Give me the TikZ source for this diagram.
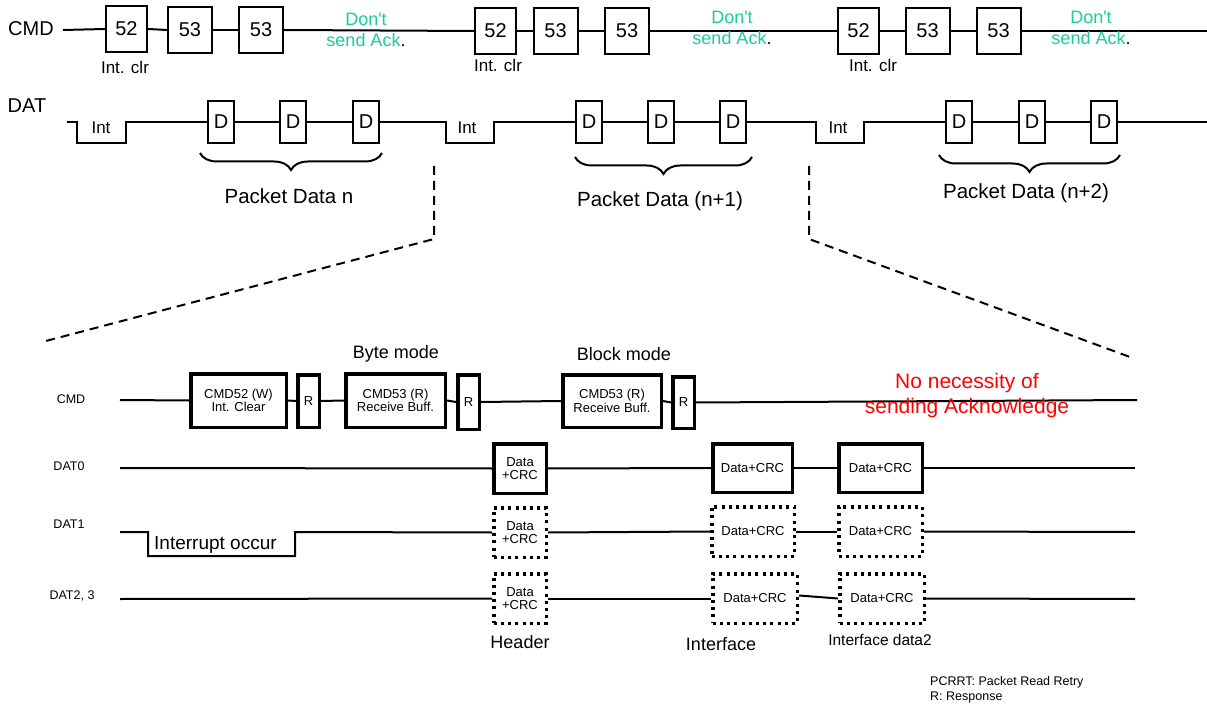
\documentclass[tikz,border=0pt]{standalone}
\usepackage{fontspec}
\setmainfont{Liberation Sans}[Ligatures=TeXOff]
\usetikzlibrary{decorations.pathreplacing}
\definecolor{ackgreen}{RGB}{25,205,150}
\definecolor{nored}{RGB}{255,0,0}
\begin{document}
\begin{tikzpicture}[x=1pt,y=-1pt,line join=miter,
  wire/.style={line width=2pt},
  dashline/.style={line width=2pt,dash pattern=on 9pt off 6pt},
  bracewire/.style={line width=2pt,decorate,decoration={brace,mirror,amplitude=17pt}},
  toplabel/.style={inner sep=0pt,font=\fontsize{20}{24}\selectfont},
  topbox/.style={draw,line width=2pt,inner sep=0pt,minimum width=44pt,minimum height=46pt,font=\fontsize{20}{24}\selectfont},
  topboxn/.style={topbox,minimum width=41pt},
  dbox/.style={draw,line width=2pt,inner sep=0pt,minimum width=26pt,minimum height=42pt,font=\fontsize{20}{24}\selectfont},
  clrlabel/.style={inner sep=0pt,font=\fontsize{17}{20}\selectfont},
  intlabel/.style={inner sep=0pt,font=\fontsize{17}{20}\selectfont},
  acktext/.style={inner sep=0pt,align=center,font=\fontsize{18}{21}\selectfont},
  pktlabel/.style={inner sep=0pt,font=\fontsize{20.5}{24}\selectfont},
  lowlabel/.style={inner sep=0pt,font=\fontsize{12.5}{15}\selectfont},
  tbox/.style={draw,line width=3.5pt,inner sep=0pt,align=center,font=\fontsize{13}{13.5}\selectfont},
  dotbox/.style={tbox,dash pattern=on 3pt off 4.2pt},
  modelabel/.style={inner sep=0pt,font=\fontsize{18}{21}\selectfont},
  redtext/.style={inner sep=0pt,align=center,text=nored,font=\fontsize{21}{25}\selectfont},
  caption/.style={inner sep=0pt,font=\fontsize{18}{21}\selectfont},
  legend/.style={inner sep=0pt,anchor=west,font=\fontsize{12.5}{14}\selectfont}
]
\useasboundingbox (0,0) rectangle (1207,708);

% ---------- top CMD row ----------
\node[toplabel] (cmdT) at (31,29) {CMD};
\coordinate (c0) at (63,30);
\node[topboxn] (a1) at (126.5,29) {52};
\node[topbox]  (a2) at (190,30) {53};
\node[topbox]  (a3) at (261,30) {53};
\node[topboxn] (a4) at (495.5,31) {52};
\node[topbox]  (a5) at (555.5,31) {53};
\node[topbox]  (a6) at (627,31) {53};
\node[topboxn] (a7) at (858.5,31) {52};
\node[topbox]  (a8) at (927.5,31) {53};
\node[topbox]  (a9) at (998.5,31) {53};
\coordinate (c1) at (1207,31);
\draw[wire] (c0) -- (a1.west);
\draw[wire] (a1.east) -- (a2.west);
\draw[wire] (a2.east) -- (a3.west);
\draw[wire] (a3.east) -- (a4.west);
\draw[wire] (a4.east) -- (a5.west);
\draw[wire] (a5.east) -- (a6.west);
\draw[wire] (a6.east) -- (a7.west);
\draw[wire] (a7.east) -- (a8.west);
\draw[wire] (a8.east) -- (a9.west);
\draw[wire] (a9.east) -- (c1);

\node[clrlabel] (ic1) at (125,67) {Int. clr};
\node[clrlabel] (ic2) at (498,65) {Int. clr};
\node[clrlabel] (ic3) at (873,65) {Int. clr};

\node[acktext] (ack1) at (366,30) {\textcolor{ackgreen}{Don't}\\\textcolor{ackgreen}{send Ack}.};
\node[acktext] (ack2) at (732,28) {\textcolor{ackgreen}{Don't}\\\textcolor{ackgreen}{send Ack}.};
\node[acktext] (ack3) at (1091,28) {\textcolor{ackgreen}{Don't}\\\textcolor{ackgreen}{send Ack}.};

% ---------- top DAT row ----------
\node[toplabel] (datT) at (27,106) {DAT};
\coordinate (w0) at (67,122);
\node[dbox] (d1) at (221,122) {D};
\node[dbox] (d2) at (293,122) {D};
\node[dbox] (d3) at (366,122) {D};
\node[dbox] (d4) at (589,122) {D};
\node[dbox] (d5) at (661,122) {D};
\node[dbox] (d6) at (733,122) {D};
\node[dbox] (d7) at (959,122) {D};
\node[dbox] (d8) at (1032,122) {D};
\node[dbox] (d9) at (1104,122) {D};
\coordinate (w1) at (1207,122);
\draw[wire] (w0) -- ++(10,0) -- ++(0,21) -- ++(49,0) -- ++(0,-21) -- (d1.west);
\draw[wire] (d1.east) -- (d2.west);
\draw[wire] (d2.east) -- (d3.west);
\draw[wire] (d3.east) -- (446,122) -- ++(0,21) -- ++(48,0) -- ++(0,-21) -- (d4.west);
\draw[wire] (d4.east) -- (d5.west);
\draw[wire] (d5.east) -- (d6.west);
\draw[wire] (d6.east) -- (816,122) -- ++(0,21) -- ++(48,0) -- ++(0,-21) -- (d7.west);
\draw[wire] (d7.east) -- (d8.west);
\draw[wire] (d8.east) -- (d9.west);
\draw[wire] (d9.east) -- (w1);

\node[intlabel] (int1) at (101,128) {Int};
\node[intlabel] (int2) at (467,128) {Int};
\node[intlabel] (int3) at (838,128) {Int};

\coordinate (br1a) at (200,153); \coordinate (br1b) at (382,153);
\coordinate (br2a) at (575,157); \coordinate (br2b) at (752,157);
\coordinate (br3a) at (939,155); \coordinate (br3b) at (1120,155);
\draw[bracewire] (br1a) -- (br1b);
\draw[bracewire] (br2a) -- (br2b);
\draw[bracewire] (br3a) -- (br3b);

\node[pktlabel] (p1) at (289,196) {Packet Data n};
\node[pktlabel] (p2) at (660,201) {Packet Data (n+1)};
\node[pktlabel] (p3) at (1026,193) {Packet Data (n+2)};

% ---------- zoom dashed lines ----------
\coordinate (zl0) at (434,166); \coordinate (zl1) at (434,239); \coordinate (zl2) at (42,342);
\coordinate (zr0) at (809,166); \coordinate (zr1) at (809,239); \coordinate (zr2) at (1130,357);
\draw[dashline] (zl0) -- (zl1) -- (zl2);
\draw[dashline] (zr0) -- (zr1) -- (zr2);

% ---------- lower CMD ----------
\node[lowlabel] (cmdL) at (71,399) {CMD};
\coordinate (l0) at (120,400);
\node[tbox,minimum width=95.5pt,minimum height=53.5pt] (k1) at (238.5,400.5) {CMD52 (W)\\Int. Clear};
\node[tbox,minimum width=21.5pt,minimum height=52.5pt] (r1) at (308.5,401) {R};
\node[tbox,minimum width=99.5pt,minimum height=53.5pt] (k2) at (395.5,400.5) {CMD53 (R)\\Receive Buff.};
\node[tbox,minimum width=21.5pt,minimum height=54.5pt] (r2) at (468.5,402) {R};
\node[tbox,minimum width=98.5pt,minimum height=52.5pt] (k3) at (612,401) {CMD53 (R)\\Receive Buff.};
\node[tbox,minimum width=21.5pt,minimum height=51.5pt] (r3) at (683.5,402.5) {R};
\coordinate (l1) at (1137,400);
\draw[wire] (l0) -- (k1.west);
\draw[wire] (k1.east) -- (r1.west);
\draw[wire] (r1.east) -- (k2.west);
\draw[wire] (k2.east) -- (r2.west);
\draw[wire] (r2.east) -- (k3.west);
\draw[wire] (k3.east) -- (r3.west);
\draw[wire] (r3.east) -- (l1);

\node[modelabel] (bym) at (396,354) {Byte mode};
\node[modelabel] (blm) at (624,354) {Block mode};
\node[redtext] (nonec) at (967,396) {No necessity of\\sending Acknowledge};

% ---------- DAT0 ----------
\node[lowlabel] (dat0L) at (69,466) {DAT0};
\coordinate (m0) at (120,468);
\node[tbox,minimum width=52.5pt,minimum height=49.5pt] (h0) at (520,468.5) {Data\\+CRC};
\node[tbox,minimum width=79.5pt,minimum height=48.5pt] (i0) at (752.5,468) {Data+CRC};
\node[tbox,minimum width=83.5pt,minimum height=48.5pt] (e0) at (880.5,468) {Data+CRC};
\coordinate (m1) at (1135,468);
\draw[wire] (m0) -- (h0.west);
\draw[wire] (h0.east) -- (i0.west);
\draw[wire] (i0.east) -- (e0.west);
\draw[wire] (e0.east) -- (m1);

% ---------- DAT1 ----------
\node[lowlabel] (dat1L) at (69,524) {DAT1};
\coordinate (n0) at (120,532);
\node[dotbox,minimum width=52.5pt,minimum height=49.5pt] (h1) at (520,532.5) {Data\\+CRC};
\node[dotbox,minimum width=82.5pt,minimum height=49.5pt] (i1) at (753,531.5) {Data+CRC};
\node[dotbox,minimum width=83.5pt,minimum height=49.5pt] (e1) at (880.5,531.5) {Data+CRC};
\coordinate (n1) at (1135,532);
\draw[wire] (n0) -- ++(28,0) -- ++(0,24) -- ++(147,0) -- ++(0,-24) -- (h1.west);
\draw[wire] (h1.east) -- (i1.west);
\draw[wire] (i1.east) -- (e1.west);
\draw[wire] (e1.east) -- (n1);
\node[inner sep=0pt,anchor=west,font=\fontsize{19}{22}\selectfont] (irq) at (154,545) {Interrupt occur};

% ---------- DAT2,3 ----------
\node[lowlabel] (dat23L) at (72,596) {DAT2, 3};
\coordinate (q0) at (120,599);
\node[dotbox,minimum width=52.5pt,minimum height=49.5pt] (h2) at (520,598.5) {Data\\+CRC};
\node[dotbox,minimum width=84.5pt,minimum height=49.5pt] (i2) at (755,598.5) {Data+CRC};
\node[dotbox,minimum width=84.5pt,minimum height=49.5pt] (e2) at (882,598.5) {Data+CRC};
\coordinate (q1) at (1135,599);
\draw[wire] (q0) -- (h2.west);
\draw[wire] (h2.east) -- (i2.west);
\draw[wire] ([yshift=3pt]i2.east) -- (e2.west);
\draw[wire] (e2.east) -- (q1);

\node[caption] (hdr) at (520,642) {Header};
\node[caption] (ifc) at (721,644) {Interface};
\node[inner sep=0pt,font=\fontsize{15.5}{18}\selectfont] (ifd2) at (880,640) {Interface data2};

\node[legend] (lg1) at (930,682) {PCRRT: Packet Read Retry};
\node[legend] (lg2) at (930,697) {R: Response};
\end{tikzpicture}
\end{document}
